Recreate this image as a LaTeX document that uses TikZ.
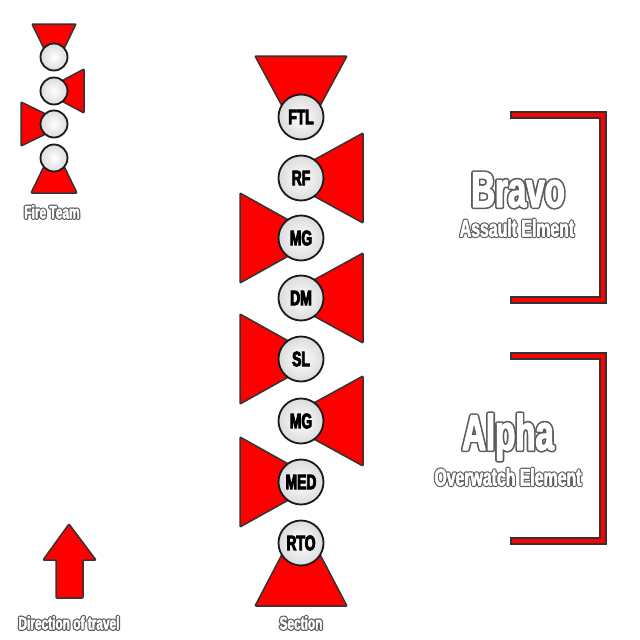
\documentclass[tikz,border=0pt]{standalone}
\usepackage{fontspec}
\newfontfamily\impactfont[FakeStretch=0.66,FakeBold=4]{Liberation Sans}
\newfontfamily\fillfont[FakeStretch=0.66,FakeBold=2.5]{Liberation Sans}
\newfontfamily\rimfont[FakeStretch=0.66,FakeBold=16]{Liberation Sans}
\newfontfamily\rimmidfont[FakeStretch=0.66,FakeBold=12]{Liberation Sans}
\newfontfamily\rimbigfont[FakeStretch=0.66,FakeBold=9]{Liberation Sans}
\definecolor{rimgray}{RGB}{92,92,92}
% #1 rim font, #2 size, #3 text
\newcommand\outlined[3]{\special{pdf:literal direct 1 j}\fontsize{#2}{#2}\selectfont\bfseries\rlap{\color{rimgray}#1#3}{\color{white}\fillfont#3}}
\usetikzlibrary{backgrounds}
\usetikzlibrary{calc}

\tikzset{
    member/.style={circle, draw=gray!20!black, line width=1.8pt, minimum size=45pt, inner sep=0pt,
        inner color=white, outer color=gray!28, font=\impactfont\bfseries\fontsize{21}{21}\selectfont},
    scout/.style={member, minimum size=27pt},
    wedge/.style={fill=red, draw=gray!40!black, line width=1.5pt, line join=round, rounded corners=0.8pt},
    bracketback/.style={draw=gray!40!black, line width=7.5pt, line join=miter},
    bracketfront/.style={draw=red, line width=4.5pt, line join=miter},
    caption/.style={inner sep=0pt},
}

\begin{document}
\begin{tikzpicture}[x=1pt, y=-1pt]

    \useasboundingbox (0,0) rectangle (640,640);

    % fire team
    \node[scout] (ft1) at (54,57) {};
    \node[scout] (ft2) at (54,91) {};
    \node[scout] (ft3) at (54,124) {};
    \node[scout] (ft4) at (54,158) {};

    % section
    \node[member] (ftl) at (301,117) {FTL};
    \node[member] (rf) at (301,178) {RF};
    \node[member] (mg1) at (301,238) {MG};
    \node[member] (dm) at (301,298) {DM};
    \node[member] (sl) at (301,359) {SL};
    \node[member] (mg2) at (301,421) {MG};
    \node[member] (med) at (301,482) {MED};
    \node[member] (rto) at (301,543) {RTO};

    \begin{scope}[on background layer]
    \draw[wedge] ($(ft1)+(-22,-33)$) -- ($(ft1)+(22,-33)$) -- ($(ft1)+(6,0)$) -- ($(ft1)+(-6,0)$) -- cycle;
    \draw[wedge] ($(ft2)+(0,-6)$) -- ($(ft2)+(30,-22)$) -- ($(ft2)+(30,22)$) -- ($(ft2)+(0,6)$) -- cycle;
    \draw[wedge] ($(ft3)+(0,-6)$) -- ($(ft3)+(-33,-22)$) -- ($(ft3)+(-33,22)$) -- ($(ft3)+(0,6)$) -- cycle;
    \draw[wedge] ($(ft4)+(-6,0)$) -- ($(ft4)+(6,0)$) -- ($(ft4)+(23,35)$) -- ($(ft4)+(-23,35)$) -- cycle;

    \draw[wedge] ($(ftl)+(-46,-61)$) -- ($(ftl)+(46,-61)$) -- ($(ftl)+(13,0)$) -- ($(ftl)+(-13,0)$) -- cycle;
    \draw[wedge] ($(rf)+(0,-11)$) -- ($(rf)+(62,-45)$) -- ($(rf)+(62,45)$) -- ($(rf)+(0,11)$) -- cycle;
    \draw[wedge] ($(mg1)+(0,-11)$) -- ($(mg1)+(-61,-45)$) -- ($(mg1)+(-61,45)$) -- ($(mg1)+(0,11)$) -- cycle;
    \draw[wedge] ($(dm)+(0,-11)$) -- ($(dm)+(62,-45)$) -- ($(dm)+(62,45)$) -- ($(dm)+(0,11)$) -- cycle;
    \draw[wedge] ($(sl)+(0,-11)$) -- ($(sl)+(-61,-45)$) -- ($(sl)+(-61,45)$) -- ($(sl)+(0,11)$) -- cycle;
    \draw[wedge] ($(mg2)+(0,-11)$) -- ($(mg2)+(62,-45)$) -- ($(mg2)+(62,45)$) -- ($(mg2)+(0,11)$) -- cycle;
    \draw[wedge] ($(med)+(0,-11)$) -- ($(med)+(-61,-45)$) -- ($(med)+(-61,45)$) -- ($(med)+(0,11)$) -- cycle;
    \draw[wedge] ($(rto)+(-13,0)$) -- ($(rto)+(13,0)$) -- ($(rto)+(46,63)$) -- ($(rto)+(-46,63)$) -- cycle;
    \end{scope}

    % direction of travel
    \draw[wedge] (69,524) -- (96,560) -- (83,560) -- (83,598) -- (56,598) -- (56,560) -- (43,560) -- cycle;

    % elements
    \draw[bracketback] (510,115) -- (603,115) -- (603,300) -- (510,300);
    \draw[bracketfront] (511.5,115) -- (603,115) -- (603,300) -- (511.5,300);
    \draw[bracketback] (510,356) -- (603,356) -- (603,541) -- (510,541);
    \draw[bracketfront] (511.5,356) -- (603,356) -- (603,541) -- (511.5,541);

    % labels
    \node[caption] (ftlabel) at (52,212) {\outlined{\rimfont}{18}{Fire Team}};
    \node[caption] (seclabel) at (301,623) {\outlined{\rimfont}{18}{Section}};
    \node[caption] (dirlabel) at (69,623) {\outlined{\rimfont}{18}{Direction of travel}};
    \node[caption] (bravo) at (518,190) {\outlined{\rimbigfont}{50}{Bravo}};
    \node[caption] (bravosub) at (517,228) {\outlined{\rimmidfont}{24}{Assault Elment}};
    \node[caption] (alpha) at (508,437) {\outlined{\rimbigfont}{50}{Alpha}};
    \node[caption] (alphasub) at (508,477) {\outlined{\rimmidfont}{24}{Overwatch Element}};

\end{tikzpicture}
\end{document}
